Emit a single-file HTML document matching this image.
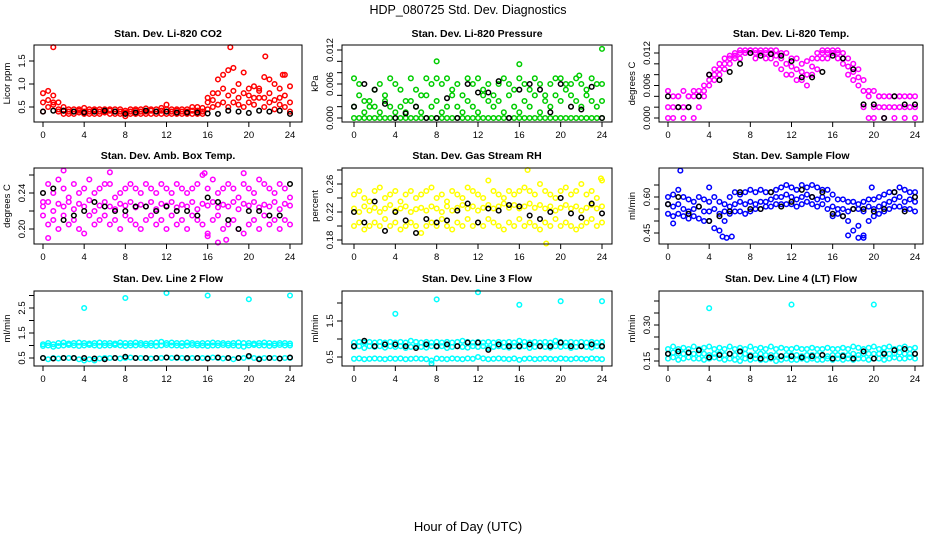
<!DOCTYPE html>
<html><head><meta charset="utf-8"><style>
html,body{margin:0;padding:0;background:#fff;}
svg{display:block;font-family:"Liberation Sans",Arial,sans-serif;}
</style></head><body>
<svg id="chart" width="936" height="540" viewBox="0 0 936 540" xmlns="http://www.w3.org/2000/svg">
<rect x="0" y="0" width="936" height="540" fill="#fff"/>
<text x="468" y="14" text-anchor="middle" font-size="12.5">HDP_080725  Std. Dev. Diagnostics</text>
<text x="468" y="531" text-anchor="middle" font-size="13">Hour of Day (UTC)</text>
</svg>
<script>
// ---- data (colored series sampled half-hourly, black series hourly) ----
const xTicks = [0,4,8,12,16,20,24];
const co2Hi = [0.8,0.85,0.75,0.6,0.5,0.45,0.45,0.45,0.48,0.45,0.45,0.45,0.45,0.45,0.45,0.45,0.42,0.45,0.45,0.45,0.47,0.45,0.45,0.48,0.55,0.45,0.45,0.45,0.45,0.5,0.5,0.48,0.7,0.8,1.1,1.2,1.3,1.35,1.0,1.25,0.9,0.95,0.9,1.15,1.1,1.0,0.9,1.2,0.95];
const co2Mid = [0.6,0.65,0.6,0.45,0.42,0.4,0.4,0.42,0.4,0.4,0.42,0.4,0.4,0.42,0.4,0.4,0.38,0.4,0.42,0.4,0.4,0.42,0.4,0.42,0.45,0.4,0.42,0.4,0.4,0.42,0.42,0.4,0.6,0.65,0.8,0.9,0.75,0.85,0.7,0.8,0.75,0.7,0.85,0.7,0.8,0.65,0.7,0.75,0.6];
const co2Lo = [0.4,0.5,0.55,0.4,0.35,0.35,0.35,0.38,0.35,0.35,0.35,0.35,0.38,0.35,0.35,0.35,0.3,0.35,0.35,0.35,0.35,0.35,0.35,0.35,0.35,0.35,0.35,0.35,0.35,0.35,0.35,0.35,0.45,0.5,0.55,0.6,0.5,0.6,0.55,0.5,0.6,0.55,0.7,0.5,0.6,0.45,0.55,0.5,0.4];
const co2OutT = [1,18.2,21.6,23.3];
const co2OutV = [1.8,1.8,1.6,1.2];
const co2Blk = [0.4,0.42,0.42,0.4,0.38,0.4,0.42,0.4,0.35,0.38,0.42,0.4,0.4,0.38,0.38,0.38,0.36,0.35,0.42,0.4,0.37,0.42,0.4,0.42,0.35];

const presHi = [0.007,0.006,0.003,0.002,0.005,0.006,0.004,0.007,0.006,0.005,0.003,0.007,0.005,0.004,0.007,0.006,0.007,0.006,0.007,0.005,0.006,0.004,0.007,0.006,0.007,0.005,0.006,0.004,0.006,0.007,0.006,0.005,0.007,0.006,0.005,0.007,0.006,0.004,0.006,0.007,0.007,0.006,0.006,0.007,0.006,0.005,0.007,0.006,0.006];
const presMid = [0.002,0.004,0.001,0.003,0.002,0.001,0.003,0.002,0.001,0.002,0.001,0.003,0.002,0.001,0.004,0.002,0.003,0.001,0.002,0.004,0.002,0.001,0.003,0.002,0.001,0.004,0.003,0.002,0.003,0.001,0.004,0.002,0.001,0.003,0.002,0.004,0.001,0.003,0.002,0.004,0.003,0.005,0.004,0.003,0.002,0.004,0.003,0.002,0.003];
const presLo = [0,0,0,0,0,0,0,0,0,0,0,0,0,0,0,0,0,0,0,0,0,0,0,0,0,0,0,0,0,0,0,0,0,0,0,0,0,0,0,0,0,0,0,0,0,0,0,0,0];
const presOutT = [8,16,24,21.8];
const presOutV = [0.010,0.0095,0.0122,0.0075];
const presBlk = [0.002,0.006,0.005,0.0025,0,0.0008,0.002,0,0,0.0035,0,0.006,0.0045,0.0045,0.0065,0,0.005,0.006,0.005,0.001,0.006,0.002,0.0015,0.0055,0];

const tempHi = [0.005,0.004,0.004,0.005,0.004,0.005,0.005,0.006,0.008,0.009,0.010,0.011,0.0115,0.012,0.0125,0.0125,0.0125,0.0125,0.0125,0.0125,0.0125,0.0125,0.012,0.012,0.011,0.011,0.010,0.0105,0.011,0.012,0.0125,0.0125,0.0125,0.0125,0.012,0.011,0.010,0.009,0.007,0.005,0.005,0.004,0.004,0.004,0.004,0.004,0.004,0.004,0.004];
const tempMid = [0.002,0.002,0.004,0.002,0.004,0.004,0.004,0.005,0.007,0.008,0.009,0.010,0.011,0.0115,0.012,0.012,0.0125,0.012,0.012,0.012,0.012,0.0115,0.011,0.010,0.0095,0.009,0.0085,0.008,0.0095,0.011,0.012,0.012,0.012,0.012,0.011,0.0095,0.0085,0.0075,0.005,0.004,0.002,0.004,0.002,0.004,0.002,0.004,0.002,0.004,0.002];
const tempLo = [0,0,0.002,0,0.002,0,0.002,0.004,0.006,0.007,0.008,0.009,0.010,0.011,0.011,0.012,0.012,0.011,0.012,0.011,0.011,0.010,0.009,0.008,0.008,0.007,0.007,0.006,0.008,0.009,0.011,0.011,0.012,0.011,0.010,0.008,0.007,0.006,0.002,0,0,0.002,0,0.002,0,0.002,0,0.002,0];
const tempOutT = [];
const tempOutV = [];
const tempBlk = [0.004,0.002,0.002,0.004,0.008,0.007,0.0085,0.01,0.012,0.0115,0.0118,0.0115,0.0105,0.0075,0.0075,0.0085,0.0115,0.011,0.009,0.0025,0.0025,0,0.004,0.0025,0.0025];

const ambHi = [0.23,0.25,0.24,0.255,0.245,0.235,0.25,0.24,0.245,0.255,0.24,0.245,0.25,0.25,0.235,0.24,0.245,0.25,0.245,0.24,0.25,0.245,0.24,0.25,0.245,0.24,0.25,0.245,0.24,0.245,0.25,0.26,0.245,0.255,0.24,0.245,0.25,0.245,0.235,0.25,0.245,0.24,0.255,0.25,0.245,0.24,0.25,0.245,0.235];
const ambMid = [0.225,0.23,0.22,0.228,0.225,0.23,0.222,0.228,0.225,0.232,0.22,0.226,0.23,0.225,0.222,0.228,0.226,0.23,0.224,0.227,0.225,0.23,0.222,0.228,0.226,0.23,0.224,0.227,0.225,0.23,0.222,0.228,0.226,0.23,0.224,0.227,0.225,0.23,0.222,0.228,0.226,0.23,0.224,0.227,0.225,0.23,0.222,0.228,0.226];
const ambLo = [0.215,0.205,0.21,0.2,0.215,0.205,0.21,0.2,0.195,0.215,0.205,0.21,0.215,0.205,0.21,0.2,0.215,0.21,0.205,0.2,0.21,0.215,0.205,0.21,0.2,0.215,0.205,0.21,0.2,0.215,0.21,0.205,0.195,0.21,0.215,0.2,0.205,0.21,0.2,0.195,0.205,0.21,0.2,0.215,0.205,0.21,0.2,0.21,0.205];
const ambOutT = [0.5,2,6.5,15.7,17,19.5,16,17.8];
const ambOutV = [0.19,0.265,0.263,0.262,0.185,0.262,0.192,0.188];
const ambBlk = [0.24,0.245,0.21,0.215,0.22,0.23,0.225,0.22,0.22,0.225,0.225,0.22,0.225,0.22,0.22,0.215,0.235,0.23,0.21,0.2,0.22,0.22,0.215,0.215,0.25];

const rhHi = [0.245,0.25,0.24,0.235,0.25,0.255,0.24,0.245,0.25,0.235,0.245,0.25,0.24,0.245,0.25,0.255,0.24,0.245,0.235,0.25,0.245,0.24,0.255,0.25,0.245,0.24,0.265,0.25,0.245,0.24,0.25,0.245,0.25,0.255,0.25,0.245,0.26,0.25,0.245,0.24,0.25,0.255,0.245,0.25,0.26,0.245,0.25,0.24,0.265];
const rhMid = [0.225,0.22,0.228,0.222,0.226,0.22,0.225,0.23,0.222,0.225,0.228,0.22,0.224,0.226,0.222,0.228,0.225,0.22,0.228,0.222,0.226,0.23,0.225,0.228,0.222,0.226,0.23,0.225,0.228,0.232,0.226,0.23,0.225,0.228,0.232,0.226,0.23,0.225,0.228,0.222,0.226,0.23,0.225,0.228,0.222,0.226,0.23,0.225,0.228];
const rhLo = [0.2,0.205,0.195,0.2,0.205,0.2,0.21,0.2,0.205,0.195,0.2,0.205,0.2,0.19,0.2,0.205,0.2,0.21,0.2,0.195,0.205,0.2,0.21,0.2,0.205,0.2,0.21,0.205,0.2,0.195,0.205,0.2,0.21,0.2,0.205,0.2,0.195,0.205,0.2,0.21,0.2,0.205,0.2,0.195,0.2,0.205,0.21,0.2,0.205];
const rhOutT = [18.6,16.8,23.9];
const rhOutV = [0.175,0.28,0.268];
const rhBlk = [0.22,0.205,0.235,0.193,0.22,0.208,0.19,0.21,0.205,0.208,0.222,0.232,0.205,0.225,0.222,0.23,0.228,0.215,0.21,0.22,0.24,0.218,0.212,0.232,0.218];

const flowHi = [0.6,0.61,0.63,0.6,0.59,0.58,0.6,0.59,0.58,0.6,0.58,0.57,0.6,0.62,0.61,0.62,0.63,0.62,0.63,0.62,0.62,0.63,0.64,0.65,0.64,0.63,0.65,0.64,0.65,0.64,0.63,0.63,0.61,0.59,0.59,0.58,0.58,0.57,0.58,0.59,0.59,0.6,0.61,0.62,0.62,0.64,0.63,0.62,0.62];
const flowMid = [0.57,0.56,0.57,0.55,0.54,0.55,0.56,0.54,0.54,0.55,0.53,0.54,0.56,0.57,0.58,0.57,0.58,0.57,0.58,0.58,0.59,0.6,0.6,0.61,0.6,0.59,0.6,0.61,0.6,0.59,0.6,0.59,0.56,0.55,0.55,0.54,0.55,0.55,0.54,0.56,0.55,0.56,0.57,0.58,0.59,0.6,0.58,0.59,0.58];
const flowLo = [0.53,0.52,0.53,0.52,0.51,0.52,0.51,0.5,0.5,0.47,0.46,0.5,0.53,0.54,0.54,0.53,0.54,0.55,0.55,0.56,0.56,0.57,0.57,0.57,0.57,0.56,0.57,0.58,0.57,0.56,0.57,0.55,0.52,0.53,0.52,0.5,0.46,0.48,0.44,0.5,0.52,0.53,0.54,0.55,0.56,0.56,0.55,0.55,0.54];
const flowOutT = [1.2,5.3,5.7,6.2,17.5,18.5,19,19.8,4,0.5];
const flowOutV = [0.71,0.435,0.43,0.435,0.44,0.43,0.43,0.64,0.64,0.49];
const flowBlk = [0.57,0.6,0.53,0.56,0.5,0.52,0.54,0.62,0.55,0.55,0.62,0.56,0.58,0.63,0.6,0.62,0.53,0.52,0.55,0.55,0.54,0.55,0.62,0.54,0.6];

const l2Hi = [1.05,1.1,1.05,1.1,1.12,1.08,1.1,1.12,1.1,1.08,1.1,1.12,1.1,1.1,1.08,1.12,1.1,1.1,1.12,1.1,1.08,1.1,1.12,1.15,1.1,1.12,1.1,1.1,1.12,1.1,1.08,1.1,1.1,1.12,1.1,1.1,1.08,1.1,1.12,1.1,1.1,1.08,1.1,1.12,1.1,1.08,1.1,1.1,1.08];
const l2Mid = [0.98,1.0,0.95,0.98,1.0,1.02,1.0,0.98,1.0,1.02,1.0,0.98,1.0,1.0,1.02,1.0,0.98,1.0,1.0,1.02,1.0,1.0,0.98,1.0,1.02,1.0,1.0,0.98,1.0,1.02,1.0,1.0,0.98,1.0,1.0,1.02,1.0,1.0,0.98,0.95,1.0,1.02,1.0,1.0,0.98,1.0,1.02,1.0,1.0];
const l2Lo = [0.5,0.45,0.5,0.48,0.5,0.5,0.5,0.45,0.4,0.45,0.4,0.48,0.5,0.5,0.5,0.48,0.5,0.52,0.5,0.5,0.5,0.48,0.5,0.5,0.52,0.5,0.5,0.5,0.48,0.5,0.5,0.5,0.5,0.52,0.5,0.48,0.5,0.45,0.5,0.5,0.55,0.5,0.48,0.5,0.5,0.5,0.48,0.5,0.5];
const l2OutT = [4,8,12,16,20,24];
const l2OutV = [2.5,2.9,3.1,3.0,2.85,3.0];
const l2Blk = [0.5,0.48,0.5,0.5,0.5,0.48,0.45,0.5,0.55,0.5,0.5,0.5,0.52,0.52,0.5,0.5,0.48,0.52,0.5,0.5,0.58,0.45,0.5,0.48,0.52];

const l3Hi = [0.9,0.92,0.9,0.92,0.9,0.92,0.9,0.92,0.9,0.92,0.9,0.95,0.92,0.9,0.92,0.9,0.92,0.9,0.92,0.9,0.92,0.95,0.92,0.9,0.92,0.9,0.92,0.9,0.92,0.9,0.92,0.9,0.95,0.92,0.9,0.92,0.9,0.92,0.9,0.95,0.92,0.9,0.92,0.9,0.92,0.9,0.92,0.9,0.92];
const l3Mid = [0.78,0.8,0.75,0.8,0.78,0.8,0.76,0.8,0.78,0.8,0.75,0.78,0.8,0.78,0.76,0.8,0.78,0.8,0.75,0.78,0.8,0.78,0.76,0.8,0.78,0.8,0.75,0.78,0.8,0.78,0.76,0.8,0.78,0.8,0.75,0.78,0.8,0.78,0.76,0.8,0.78,0.8,0.75,0.78,0.8,0.78,0.76,0.8,0.78];
const l3Lo = [0.45,0.46,0.44,0.45,0.46,0.45,0.44,0.46,0.45,0.46,0.44,0.45,0.46,0.45,0.44,0.4,0.46,0.45,0.44,0.46,0.45,0.44,0.46,0.45,0.5,0.46,0.44,0.45,0.46,0.45,0.44,0.46,0.42,0.45,0.46,0.44,0.45,0.46,0.45,0.44,0.46,0.45,0.44,0.46,0.45,0.44,0.46,0.45,0.44];
const l3OutT = [4,8,12,16,20,24,7.5];
const l3OutV = [1.7,2.1,2.3,1.95,2.05,2.05,0.32];
const l3Blk = [0.8,0.95,0.8,0.85,0.85,0.8,0.75,0.85,0.8,0.85,0.8,0.9,0.9,0.7,0.85,0.8,0.8,0.85,0.8,0.8,0.9,0.8,0.8,0.85,0.8];

const l4Hi = [0.2,0.21,0.2,0.205,0.2,0.21,0.2,0.205,0.21,0.2,0.205,0.2,0.21,0.2,0.205,0.2,0.21,0.2,0.205,0.2,0.21,0.2,0.205,0.2,0.2,0.205,0.2,0.2,0.205,0.2,0.2,0.205,0.2,0.2,0.205,0.2,0.21,0.205,0.2,0.205,0.21,0.2,0.205,0.21,0.2,0.205,0.21,0.2,0.205];
const l4Mid = [0.18,0.185,0.18,0.18,0.185,0.18,0.18,0.18,0.175,0.18,0.18,0.175,0.18,0.175,0.175,0.18,0.175,0.175,0.18,0.175,0.175,0.175,0.17,0.175,0.175,0.175,0.17,0.175,0.175,0.175,0.175,0.17,0.175,0.175,0.175,0.175,0.18,0.175,0.18,0.18,0.18,0.18,0.185,0.18,0.18,0.185,0.18,0.18,0.18];
const l4Lo = [0.16,0.165,0.155,0.16,0.165,0.16,0.16,0.155,0.16,0.165,0.16,0.155,0.16,0.155,0.15,0.16,0.155,0.16,0.155,0.155,0.16,0.15,0.155,0.16,0.155,0.155,0.16,0.155,0.16,0.155,0.155,0.16,0.155,0.16,0.155,0.16,0.155,0.16,0.16,0.155,0.16,0.16,0.155,0.16,0.165,0.16,0.16,0.165,0.16];
const l4OutT = [4,12,20];
const l4OutV = [0.37,0.385,0.385];
const l4Blk = [0.18,0.19,0.185,0.195,0.165,0.175,0.18,0.19,0.17,0.16,0.165,0.17,0.17,0.165,0.17,0.175,0.16,0.17,0.16,0.19,0.16,0.18,0.195,0.2,0.18];

const ticks1=[0.5,1.0,1.5], labs1=["0.5","1.0","1.5"];
const ticks2=[0,0.002,0.004,0.006,0.008,0.010,0.012], labs2=["0.000","","","0.006","","","0.012"];
const ticks4=[0.20,0.22,0.24,0.26], labs4=["0.20","","0.24",""];
const ticks5=[0.18,0.20,0.22,0.24,0.26,0.28], labs5=["0.18","","0.22","","0.26",""];
const ticks6=[0.45,0.50,0.55,0.60,0.65], labs6=["0.45","","","0.60",""];
const ticks7=[0.5,1,1.5,2,2.5,3], labs7=["0.5","","1.5","","2.5",""];
const ticks8=[0.5,1,1.5,2], labs8=["0.5","","1.5",""];
const ticks9=[0.15,0.20,0.25,0.30,0.35,0.40], labs9=["0.15","","","0.30","",""];

// ---- layout (not data) ----
const rows=[{top:45,bot:122,title:37},{top:168,bot:244,title:159},{top:291,bot:366,title:282}];
const cols=[{x0:34,x1:302,t0:43,t24:290},{x0:342,x1:612,t0:354,t24:602},{x0:659,x1:923,t0:668,t24:915}];
const panels=[
 {r:0,c:0,name:"co2",title:"Stan. Dev. Li-820 CO2",ylab:"Licor ppm",col:"#ff0000",v1:0.5,p1:107,v2:1.5,p2:61,ticks:ticks1,labs:labs1,s:[co2Hi,co2Mid,co2Lo],ot:co2OutT,ov:co2OutV,blk:co2Blk},
 {r:0,c:1,name:"pressure",title:"Stan. Dev. Li-820 Pressure",ylab:"kPa",col:"#00cd00",v1:0,p1:118,v2:0.012,p2:50,ticks:ticks2,labs:labs2,s:[presHi,presMid,presLo],ot:presOutT,ov:presOutV,blk:presBlk},
 {r:0,c:2,name:"temp",title:"Stan. Dev. Li-820 Temp.",ylab:"degrees C",col:"#ff00ff",v1:0,p1:118,v2:0.012,p2:53,ticks:ticks2,labs:labs2,s:[tempHi,tempMid,tempLo],ot:tempOutT,ov:tempOutV,blk:tempBlk},
 {r:1,c:0,name:"amb-box-temp",title:"Stan. Dev. Amb. Box Temp.",ylab:"degrees C",col:"#ff00ff",v1:0.20,p1:229,v2:0.24,p2:193,ticks:ticks4,labs:labs4,s:[ambHi,ambMid,ambLo],ot:ambOutT,ov:ambOutV,blk:ambBlk},
 {r:1,c:1,name:"gas-rh",title:"Stan. Dev. Gas Stream RH",ylab:"percent",col:"#ffff00",v1:0.18,p1:240,v2:0.26,p2:184,ticks:ticks5,labs:labs5,s:[rhHi,rhMid,rhLo],ot:rhOutT,ov:rhOutV,blk:rhBlk},
 {r:1,c:2,name:"sample-flow",title:"Stan. Dev. Sample Flow",ylab:"ml/min",col:"#0000ff",v1:0.45,p1:233,v2:0.60,p2:197,ticks:ticks6,labs:labs6,s:[flowHi,flowMid,flowLo],ot:flowOutT,ov:flowOutV,blk:flowBlk},
 {r:2,c:0,name:"line2-flow",title:"Stan. Dev. Line 2 Flow",ylab:"ml/min",col:"#00ffff",v1:0.5,p1:358,v2:2.5,p2:308,ticks:ticks7,labs:labs7,s:[l2Hi,l2Mid,l2Lo],ot:l2OutT,ov:l2OutV,blk:l2Blk},
 {r:2,c:1,name:"line3-flow",title:"Stan. Dev. Line 3 Flow",ylab:"ml/min",col:"#00ffff",v1:0.5,p1:357,v2:1.5,p2:321,ticks:ticks8,labs:labs8,s:[l3Hi,l3Mid,l3Lo],ot:l3OutT,ov:l3OutV,blk:l3Blk},
 {r:2,c:2,name:"line4-flow",title:"Stan. Dev. Line 4 (LT) Flow",ylab:"ml/min",col:"#00ffff",v1:0.15,p1:361,v2:0.30,p2:325,ticks:ticks9,labs:labs9,s:[l4Hi,l4Mid,l4Lo],ot:l4OutT,ov:l4OutV,blk:l4Blk}
];
const NS="http://www.w3.org/2000/svg";
const svg=document.getElementById('chart');
function mk(tag,attrs,parent){const e=document.createElementNS(NS,tag);for(const k in attrs)e.setAttribute(k,attrs[k]);(parent||svg).appendChild(e);return e;}
panels.forEach(p=>{
 const R=rows[p.r],C=cols[p.c];
 const g=mk('g',{});
 
 
 const xs=t=>C.t0+(C.t24-C.t0)*t/24;
 const ys=v=>p.p1+(p.p2-p.p1)*(v-p.v1)/(p.v2-p.v1);
 const title=mk('text',{x:(C.x0+C.x1)/2,y:R.title,'text-anchor':'middle','font-size':10.5,'font-weight':'bold'},g);
 title.textContent=p.title;
 
 
 const clip=mk('g',{},g);
 p.s.forEach((arr,k)=>{
  arr.forEach((v,i)=>{
   const c=mk('circle',{cx:xs(i*0.5),cy:ys(v),r:2.3,fill:'none',stroke:p.col,'stroke-width':1.5},clip);
   
   
  });
 });
 p.ot.forEach((t,i)=>{
  const c=mk('circle',{cx:xs(t),cy:ys(p.ov[i]),r:2.3,fill:'none',stroke:p.col,'stroke-width':1.5},clip);
  
  
 });
 p.blk.forEach((v,i)=>{
  const c=mk('circle',{cx:xs(i),cy:ys(v),r:2.3,fill:'none',stroke:'#000','stroke-width':1.5},clip);
  
  
 });
 const box=mk('rect',{x:C.x0,y:R.top,width:C.x1-C.x0,height:R.bot-R.top,fill:'none',stroke:'#000','stroke-width':1},g);
 
 
 xTicks.forEach(t=>{
  mk('line',{x1:xs(t),x2:xs(t),y1:R.bot,y2:R.bot+5,stroke:'#000'},g);
  const tx=mk('text',{x:xs(t),y:R.bot+16,'text-anchor':'middle','font-size':9.5},g);
  tx.textContent=t;
  
  
 });
 p.ticks.forEach((v,i)=>{
  const y=ys(v);
  mk('line',{x1:C.x0-5,x2:C.x0,y1:y,y2:y,stroke:'#000'},g);
  if(p.labs[i]){
   const tx=mk('text',{x:C.x0-9,y:y,'text-anchor':'middle','font-size':9.5,transform:`rotate(-90 ${C.x0-9} ${y})`},g);
   tx.textContent=p.labs[i];
   
   
  }
 });
 const yl=mk('text',{x:C.x0-24,y:(R.top+R.bot)/2,'text-anchor':'middle','font-size':9.5,transform:`rotate(-90 ${C.x0-24} ${(R.top+R.bot)/2})`},g);
 yl.textContent=p.ylab;
 
 
});
</script>
</body></html>
